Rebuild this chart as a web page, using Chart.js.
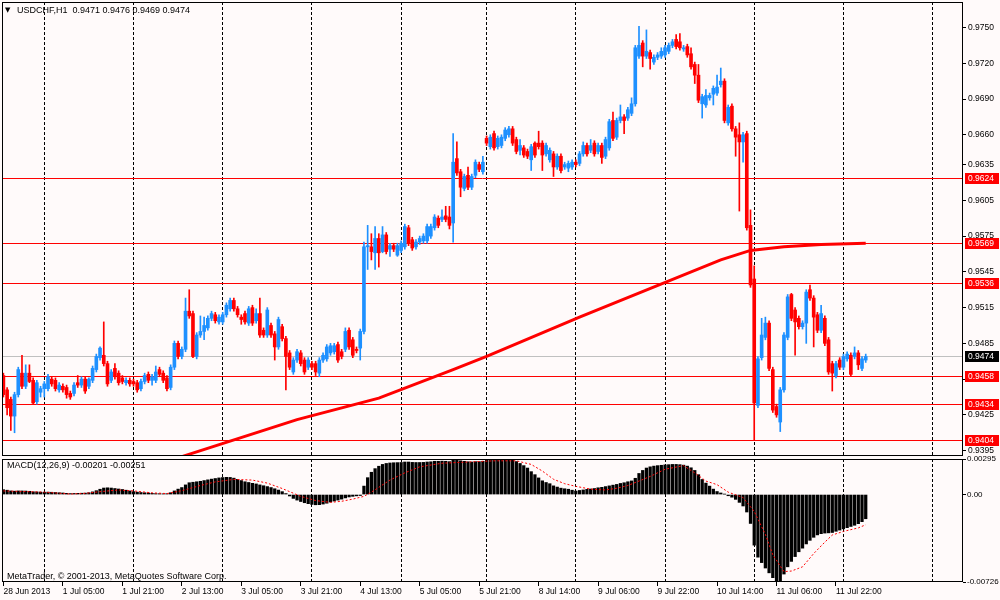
<!DOCTYPE html>
<html><head><meta charset="utf-8">
<script src="https://cdn.jsdelivr.net/npm/chart.js@4.4.0/dist/chart.umd.min.js"></script>
<style>
html,body{margin:0;padding:0;background:#fffafa;}
#wrap{position:relative;width:1000px;height:600px;overflow:hidden;background:#fffafa;}
canvas{position:absolute;left:0;}
#c1{top:0;width:1000px;height:458px;}
#c2{top:440px;width:1000px;height:160px;}
</style></head><body>
<div id="wrap"><canvas id="c1" width="1000" height="458"></canvas><canvas id="c2" width="1000" height="160"></canvas></div>
<script>
// ---------- data ----------
const symbolLabel = "USDCHF,H1";
const macdLabel = "MACD(12,26,9)";
const copyright = "MetaTrader, \u00A9 2001-2013, MetaQuotes Software Corp.";

const open = [
0.9458,0.9446,0.9438,0.9424,0.9442,0.9460,0.9449,0.9460,0.9454,0.9436,
0.9444,0.9447,0.9447,0.9455,0.9454,0.9446,0.9449,0.9448,0.9443,0.9443,
0.9452,0.9450,0.9455,0.9449,0.9454,0.9463,0.9473,0.9475,0.9468,0.9454,
0.9464,0.9460,0.9456,0.9452,0.9454,0.9453,0.9452,0.9447,0.9453,0.9459,
0.9454,0.9454,0.9463,0.9460,0.9456,0.9448,0.9465,0.9485,0.9474,0.9480,
0.9512,0.9510,0.9474,0.9492,0.9495,0.9498,0.9506,0.9509,0.9503,0.9503,
0.9509,0.9514,0.9521,0.9514,0.9507,0.9510,0.9502,0.9515,0.9504,0.9510,
0.9496,0.9492,0.9500,0.9493,0.9482,0.9499,0.9489,0.9477,0.9461,0.9471,
0.9477,0.9471,0.9465,0.9468,0.9468,0.9460,0.9471,0.9472,0.9477,0.9478,
0.9484,0.9478,0.9480,0.9496,0.9488,0.9480,0.9481,0.9495,0.9566,0.9566,
0.9561,0.9573,0.9562,0.9576,0.9564,0.9567,0.9559,0.9563,0.9566,0.9582,
0.9572,0.9566,0.9570,0.9571,0.9571,0.9575,0.9582,0.9590,0.9589,0.9592,
0.9591,0.9586,0.9640,0.9629,0.9615,0.9626,0.9616,0.9626,0.9635,0.9629,
0.9657,0.9650,0.9661,0.9650,0.9651,0.9657,0.9660,0.9665,0.9656,0.9647,
0.9649,0.9646,0.9639,0.9653,0.9653,0.9653,0.9644,0.9639,0.9644,0.9633,
0.9642,0.9633,0.9632,0.9633,0.9637,0.9636,0.9644,0.9651,0.9647,0.9653,
0.9646,0.9651,0.9642,0.9649,0.9672,0.9658,0.9672,0.9675,0.9674,0.9678,
0.9686,0.9726,0.9737,0.9726,0.9729,0.9721,0.9725,0.9726,0.9727,0.9730,
0.9735,0.9740,0.9738,0.9732,0.9734,0.9728,0.9719,0.9710,0.9686,0.9685,
0.9691,0.9694,0.9695,0.9702,0.9705,0.9670,0.9684,0.9665,0.9660,0.9654,
0.9661,0.9584,0.9539,0.9433,0.9473,0.9490,0.9502,0.9463,0.9432,0.9419,
0.9446,0.9490,0.9526,0.9513,0.9506,0.9499,0.9502,0.9530,0.9523,0.9509,
0.9496,0.9506,0.9488,0.9468,0.9458,0.9471,0.9465,0.9472,0.9475,0.9474,
0.9477,0.9464,0.9471];

const high = [
0.9460,0.9448,0.9440,0.9444,0.9465,0.9475,0.9467,0.9467,0.9456,0.9454,
0.9449,0.9453,0.9459,0.9457,0.9456,0.9452,0.9451,0.9450,0.9445,0.9452,
0.9458,0.9457,0.9457,0.9456,0.9466,0.9476,0.9482,0.9503,0.9470,0.9463,
0.9468,0.9462,0.9458,0.9456,0.9456,0.9455,0.9454,0.9455,0.9460,0.9461,
0.9459,0.9466,0.9465,0.9462,0.9458,0.9467,0.9487,0.9487,0.9482,0.9523,
0.9530,0.9512,0.9494,0.9508,0.9507,0.9508,0.9512,0.9511,0.9509,0.9511,
0.9519,0.9523,0.9523,0.9516,0.9509,0.9512,0.9516,0.9517,0.9514,0.9523,
0.9498,0.9515,0.9502,0.9495,0.9507,0.9501,0.9491,0.9479,0.9473,0.9480,
0.9479,0.9473,0.9473,0.9470,0.9470,0.9473,0.9477,0.9484,0.9485,0.9485,
0.9486,0.9480,0.9498,0.9498,0.9490,0.9482,0.9497,0.9570,0.9584,0.9577,
0.9583,0.9577,0.9583,0.9578,0.9569,0.9569,0.9569,0.9571,0.9585,0.9584,
0.9574,0.9572,0.9575,0.9577,0.9585,0.9585,0.9593,0.9592,0.9597,0.9600,
0.9600,0.9661,0.9654,0.9631,0.9627,0.9633,0.9627,0.9639,0.9637,0.9642,
0.9659,0.9660,0.9663,0.9659,0.9660,0.9666,0.9667,0.9667,0.9658,0.9656,
0.9651,0.9648,0.9652,0.9654,0.9663,0.9655,0.9653,0.9649,0.9646,0.9644,
0.9644,0.9637,0.9638,0.9639,0.9639,0.9646,0.9654,0.9653,0.9656,0.9655,
0.9653,0.9653,0.9658,0.9673,0.9679,0.9674,0.9685,0.9677,0.9683,0.9691,
0.9735,0.9751,0.9739,0.9748,0.9731,0.9727,0.9729,0.9733,0.9735,0.9737,
0.9740,0.9744,0.9745,0.9735,0.9736,0.9733,0.9721,0.9719,0.9694,0.9698,
0.9695,0.9701,0.9710,0.9716,0.9707,0.9685,0.9686,0.9667,0.9670,0.9662,
0.9663,0.9597,0.9550,0.9474,0.9506,0.9507,0.9504,0.9465,0.9434,0.9448,
0.9494,0.9526,0.9527,0.9515,0.9508,0.9504,0.9530,0.9534,0.9525,0.9511,
0.9517,0.9508,0.9490,0.9470,0.9470,0.9473,0.9476,0.9478,0.9477,0.9482,
0.9479,0.9474,0.9476];

const low = [
0.9440,0.9425,0.9412,0.9410,0.9440,0.9447,0.9447,0.9452,0.9434,0.9434,
0.9440,0.9440,0.9445,0.9449,0.9445,0.9444,0.9444,0.9439,0.9438,0.9441,
0.9448,0.9448,0.9443,0.9447,0.9452,0.9461,0.9471,0.9466,0.9449,0.9452,
0.9455,0.9450,0.9451,0.9450,0.9449,0.9449,0.9444,0.9445,0.9451,0.9452,
0.9450,0.9452,0.9457,0.9452,0.9445,0.9446,0.9463,0.9472,0.9472,0.9478,
0.9506,0.9473,0.9472,0.9490,0.9488,0.9496,0.9504,0.9502,0.9501,0.9501,
0.9507,0.9512,0.9512,0.9507,0.9501,0.9501,0.9500,0.9500,0.9502,0.9490,
0.9490,0.9490,0.9490,0.9471,0.9480,0.9487,0.9446,0.9463,0.9459,0.9469,
0.9466,0.9459,0.9463,0.9463,0.9458,0.9457,0.9469,0.9470,0.9475,0.9476,
0.9469,0.9472,0.9478,0.9480,0.9473,0.9477,0.9471,0.9493,0.9547,0.9555,
0.9547,0.9549,0.9561,0.9560,0.9558,0.9562,0.9558,0.9561,0.9564,0.9567,
0.9563,0.9564,0.9568,0.9569,0.9569,0.9573,0.9580,0.9582,0.9587,0.9587,
0.9581,0.9570,0.9626,0.9608,0.9613,0.9614,0.9614,0.9624,0.9629,0.9627,
0.9651,0.9648,0.9647,0.9648,0.9649,0.9655,0.9658,0.9651,0.9644,0.9643,
0.9641,0.9640,0.9630,0.9641,0.9648,0.9630,0.9642,0.9637,0.9625,0.9631,
0.9628,0.9631,0.9629,0.9631,0.9633,0.9634,0.9642,0.9642,0.9645,0.9642,
0.9644,0.9636,0.9640,0.9647,0.9655,0.9656,0.9670,0.9661,0.9672,0.9676,
0.9684,0.9724,0.9717,0.9724,0.9715,0.9719,0.9723,0.9724,0.9725,0.9728,
0.9733,0.9732,0.9731,0.9730,0.9725,0.9715,0.9703,0.9687,0.9674,0.9683,
0.9689,0.9685,0.9693,0.9700,0.9670,0.9668,0.9663,0.9642,0.9596,0.9637,
0.9580,0.9532,0.9404,0.9431,0.9471,0.9488,0.9462,0.9427,0.9423,0.9411,
0.9444,0.9488,0.9504,0.9475,0.9497,0.9497,0.9485,0.9521,0.9482,0.9494,
0.9494,0.9483,0.9459,0.9445,0.9456,0.9463,0.9463,0.9470,0.9457,0.9472,
0.9463,0.9462,0.9469];

const close = [
0.9442,0.9431,0.9424,0.9442,0.9463,0.9449,0.9460,0.9453,0.9435,0.9452,
0.9447,0.9451,0.9457,0.9451,0.9447,0.9450,0.9446,0.9442,0.9440,0.9450,
0.9450,0.9455,0.9445,0.9455,0.9464,0.9474,0.9481,0.9468,0.9451,0.9461,
0.9457,0.9452,0.9453,0.9454,0.9451,0.9451,0.9446,0.9453,0.9458,0.9454,
0.9457,0.9461,0.9459,0.9454,0.9447,0.9465,0.9485,0.9474,0.9480,0.9512,
0.9508,0.9474,0.9492,0.9495,0.9500,0.9506,0.9510,0.9504,0.9507,0.9509,
0.9517,0.9521,0.9514,0.9509,0.9505,0.9503,0.9514,0.9502,0.9510,0.9492,
0.9492,0.9513,0.9492,0.9482,0.9505,0.9489,0.9474,0.9465,0.9471,0.9478,
0.9468,0.9461,0.9471,0.9465,0.9461,0.9471,0.9475,0.9482,0.9483,0.9483,
0.9471,0.9474,0.9495,0.9482,0.9475,0.9479,0.9495,0.9566,0.9567,0.9562,
0.9573,0.9561,0.9576,0.9562,0.9567,0.9564,0.9567,0.9569,0.9583,0.9569,
0.9565,0.9570,0.9573,0.9575,0.9583,0.9583,0.9591,0.9584,0.9591,0.9589,
0.9584,0.9637,0.9628,0.9616,0.9625,0.9616,0.9625,0.9637,0.9631,0.9637,
0.9653,0.9658,0.9649,0.9657,0.9658,0.9664,0.9665,0.9653,0.9646,0.9651,
0.9643,0.9642,0.9650,0.9643,0.9650,0.9643,0.9651,0.9647,0.9633,0.9642,
0.9630,0.9635,0.9636,0.9637,0.9635,0.9644,0.9651,0.9644,0.9651,0.9644,
0.9651,0.9641,0.9656,0.9671,0.9657,0.9672,0.9675,0.9672,0.9681,0.9686,
0.9733,0.9735,0.9726,0.9730,0.9724,0.9725,0.9727,0.9730,0.9733,0.9735,
0.9738,0.9734,0.9733,0.9733,0.9727,0.9717,0.9710,0.9689,0.9692,0.9693,
0.9693,0.9699,0.9700,0.9705,0.9672,0.9683,0.9665,0.9658,0.9654,0.9660,
0.9582,0.9534,0.9435,0.9472,0.9492,0.9502,0.9464,0.9429,0.9425,0.9446,
0.9492,0.9524,0.9506,0.9503,0.9499,0.9502,0.9528,0.9523,0.9507,0.9496,
0.9510,0.9485,0.9461,0.9460,0.9468,0.9465,0.9474,0.9476,0.9459,0.9477,
0.9467,0.9472,0.9474];

// moving average (red line), read at selected bars
const maBars   = [0, 48, 79, 101, 121, 130, 155, 193, 201, 210, 220, 232];
const maValues = [0.9343,0.9390,0.9421,0.9439,0.9463,0.9474,0.9507,0.9555,0.9563,0.9566,0.9568,0.9569];

// horizontal price levels and current bid
const levelPrices = [0.9624, 0.9569, 0.9536, 0.9458, 0.9434, 0.9404];
const bidPrice = 0.9474;

// MACD histogram (main) per bar
const macdHist = [
0.00040,0.00036,0.00030,0.00028,0.00030,0.00030,0.00029,0.00027,0.00023,0.00022,
0.00020,0.00019,0.00020,0.00019,0.00017,0.00015,0.00013,0.00010,0.00008,0.00009,
0.00010,0.00011,0.00012,0.00015,0.00022,0.00032,0.00044,0.00054,0.00056,0.00054,
0.00050,0.00046,0.00042,0.00036,0.00030,0.00024,0.00020,0.00017,0.00015,0.00013,
0.00010,0.00008,0.00007,0.00006,0.00007,0.00015,0.00030,0.00045,0.00058,0.00080,
0.00098,0.00102,0.00106,0.00110,0.00116,0.00122,0.00128,0.00133,0.00138,0.00141,
0.00143,0.00142,0.00136,0.00126,0.00116,0.00106,0.00100,0.00093,0.00088,0.00080,
0.00073,0.00066,0.00058,0.00048,0.00037,0.00024,0.00008,-0.00012,-0.00032,-0.00046,
-0.00058,-0.00068,-0.00076,-0.00082,-0.00085,-0.00084,-0.00079,-0.00072,-0.00062,-0.00054,
-0.00046,-0.00038,-0.00028,-0.00020,-0.00015,-0.00011,-0.00008,0.00070,0.00140,0.00185,
0.00215,0.00235,0.00250,0.00258,0.00262,0.00264,0.00265,0.00266,0.00270,0.00270,
0.00267,0.00266,0.00266,0.00267,0.00270,0.00272,0.00276,0.00276,0.00277,0.00276,
0.00273,0.00285,0.00286,0.00280,0.00276,0.00272,0.00270,0.00273,0.00273,0.00276,
0.00286,0.00290,0.00290,0.00292,0.00294,0.00295,0.00294,0.00286,0.00274,0.00258,
0.00240,0.00220,0.00190,0.00165,0.00138,0.00114,0.00100,0.00090,0.00072,0.00062,
0.00053,0.00048,0.00044,0.00036,0.00029,0.00034,0.00038,0.00043,0.00046,0.00050,
0.00056,0.00060,0.00066,0.00072,0.00078,0.00084,0.00092,0.00098,0.00106,0.00113,
0.00135,0.00175,0.00200,0.00220,0.00230,0.00236,0.00240,0.00243,0.00246,0.00248,
0.00250,0.00250,0.00248,0.00244,0.00236,0.00222,0.00200,0.00165,0.00125,0.00095,
0.00070,0.00045,0.00025,0.00013,0.00003,-0.00010,-0.00022,-0.00040,-0.00065,-0.00095,
-0.00145,-0.00240,-0.00420,-0.00520,-0.00565,-0.00610,-0.00650,-0.00690,-0.00726,-0.00715,
-0.00660,-0.00600,-0.00555,-0.00515,-0.00475,-0.00445,-0.00410,-0.00380,-0.00355,-0.00335,
-0.00325,-0.00320,-0.00318,-0.00315,-0.00305,-0.00295,-0.00285,-0.00275,-0.00265,-0.00255,
-0.00242,-0.00225,-0.00201];

// MACD signal (red dotted), read at selected bars
const signalBars = [0,11,18,22,26,31,35,40,44,48,53,57,62,67,71,75,80,84,88,91,94,97,99,101,104,108,112,118,125,132,138,142,145,148,151,154,158,162,165,168,171,174,178,183,186,189,192,195,199,202,205,207,210,212,215,218,221,223,226,230,232];
const signalValues = [0.00030,0.00020,0.00004,0.00010,0.00024,0.00038,0.00030,0.00014,0.00008,0.00032,0.00075,0.00105,0.00126,0.00120,0.00095,0.00050,-0.00015,-0.00050,-0.00065,-0.00056,-0.00038,-0.00015,0.00020,0.00060,0.00120,0.00180,0.00230,0.00260,0.00270,0.00280,0.00280,0.00250,0.00195,0.00127,0.00090,0.00068,0.00045,0.00038,0.00052,0.00075,0.00112,0.00150,0.00210,0.00240,0.00180,0.00112,0.00082,0.00020,-0.00025,-0.00140,-0.00330,-0.00500,-0.00640,-0.00635,-0.00600,-0.00490,-0.00395,-0.00336,-0.00306,-0.00277,-0.00251];

// axis ticks
const priceTicks = [0.9395,0.9425,0.9455,0.9485,0.9515,0.9545,0.9575,0.9605,0.9635,0.9660,0.9690,0.9720,0.9750];
const macdTicks = [-0.00726, 0, 0.00295];
const macdTickLabels = ["-0.00726", "0.00", "0.00295"];
const timeLabelBars = [0,16,32,48,64,80,96,112,128,144,160,176,192,208,224];
const timeLabels = ["28 Jun 2013","1 Jul 05:00","1 Jul 21:00","2 Jul 13:00","3 Jul 05:00","3 Jul 21:00","4 Jul 13:00","5 Jul 05:00","5 Jul 21:00","8 Jul 14:00","9 Jul 06:00","9 Jul 22:00","10 Jul 14:00","11 Jul 06:00","11 Jul 22:00"];
const gridBars = [11,35,59,83,107,130,154,178,202,226,250];

// ---------- view ----------
const X_MIN = -0.377, X_MAX = 258.17;
const P_MIN = 0.93905, P_MAX = 0.97714;
const M_MIN = -0.00726, M_MAX = 0.00295;
const FAM = '"Liberation Sans", Arial, sans-serif';
const FONT = {family: FAM, size: 8.5};
const MFONT = {family: FAM, size: 8};
Chart.defaults.font.family = FAM;
Chart.defaults.font.size = 8.5;
Chart.defaults.color = '#000';
const BULL = '#1e90ff', BEAR = '#ff0000';

const idx = open.map((_, i) => i);
const candleColors = idx.map(i => close[i] > open[i] ? BULL : BEAR);
const bodyData = idx.map(i => ({x: i, y: [open[i], close[i]]}));
const wickData = idx.map(i => ({x: i, y: [low[i], high[i]]}));
const maData = maBars.map((b, k) => ({x: b, y: maValues[k]}));
const histData = macdHist.map((v, i) => ({x: i, y: v}));
const sigData = signalBars.map((b, k) => ({x: b, y: signalValues[k]}));

function noPad(s) { s.paddingTop = 0; s.paddingBottom = 0; s.paddingLeft = 0; s.paddingRight = 0; }

function hLine(ctx, a, y, color) {
  const yy = Math.round(y) + 0.5;
  ctx.strokeStyle = color; ctx.lineWidth = 1; ctx.setLineDash([]);
  ctx.beginPath(); ctx.moveTo(a.left, yy); ctx.lineTo(a.right, yy); ctx.stroke();
}
function priceBox(ctx, a, y, text, bg) {
  const yy = Math.round(y);
  ctx.fillStyle = bg; ctx.fillRect(a.right + 2, yy - 5, 34, 11);
  ctx.fillStyle = '#ffffff'; ctx.textAlign = 'left'; ctx.textBaseline = 'middle';
  ctx.font = '8.5px ' + FAM;
  ctx.fillText(text, a.right + 5, yy + 0.5);
}
function frame(ctx, a) {
  ctx.strokeStyle = '#000'; ctx.lineWidth = 1; ctx.setLineDash([]);
  ctx.strokeRect(Math.round(a.left) + 0.5, Math.round(a.top) + 0.5, Math.round(a.right - a.left) - 1, Math.round(a.bottom - a.top) - 1);
}

const mainPlugin = {
  id: 'mt4main',
  beforeDatasetsDraw(chart) {
    const {ctx, chartArea: a, scales: {y}} = chart;
    ctx.save();
    hLine(ctx, a, y.getPixelForValue(bidPrice), '#c0c0c0');
    levelPrices.forEach(v => hLine(ctx, a, y.getPixelForValue(v), '#ff0000'));
    ctx.restore();
  },
  afterDraw(chart) {
    const {ctx, chartArea: a, scales: {y}} = chart;
    ctx.save();
    frame(ctx, a);
    levelPrices.forEach(v => priceBox(ctx, a, y.getPixelForValue(v), v.toFixed(4), '#ff0000'));
    priceBox(ctx, a, y.getPixelForValue(bidPrice), bidPrice.toFixed(4), '#000000');
    const n = open.length - 1;
    ctx.fillStyle = '#000'; ctx.textAlign = 'left'; ctx.textBaseline = 'middle';
    ctx.font = '7px "DejaVu Sans"';
    ctx.fillText('\u25BC', 5, 10);
    ctx.font = '9px ' + FAM;
    ctx.fillText(symbolLabel, 17, 10.5);
    ctx.fillText([open[n], high[n], low[n], close[n]].map(v => v.toFixed(4)).join(' '), 72.5, 10.5);
    ctx.restore();
  }
};

new Chart(document.getElementById('c1'), {
  type: 'line',
  data: { datasets: [
    {type: 'line', label: 'MA', data: maData, borderColor: '#ff0000', borderWidth: 3, pointRadius: 0, tension: 0, clip: 0, order: 0},
    {type: 'bar', label: 'body', data: bodyData, backgroundColor: candleColors, barThickness: 3, minBarLength: 1, stack: 'c', order: 1},
    {type: 'bar', label: 'wick', data: wickData, backgroundColor: candleColors, barThickness: 1, stack: 'c', order: 2}
  ]},
  options: {
    responsive: false, animation: false, devicePixelRatio: 1,
    layout: {padding: {left: 2, top: 2, right: 0, bottom: 2}},
    plugins: {legend: {display: false}, tooltip: {enabled: false}, title: {display: false}},
    scales: {
      x: {
        type: 'linear', min: X_MIN, max: X_MAX, offset: false, stacked: true,
        afterBuildTicks: s => { s.ticks = gridBars.map(v => ({value: v})); },
        ticks: {display: false},
        grid: {display: true, color: '#000', lineWidth: 1, drawTicks: false, offset: false},
        border: {display: false, dash: [3, 2]},
        afterFit: s => { s.height = 0; noPad(s); }
      },
      y: {
        type: 'linear', position: 'right', min: P_MIN, max: P_MAX, stacked: false, beginAtZero: false,
        afterBuildTicks: s => { s.ticks = priceTicks.map(v => ({value: v})); },
        ticks: {callback: v => Number(v).toFixed(4), font: FONT, color: '#000', padding: 2, autoSkip: false},
        grid: {drawOnChartArea: false, drawTicks: true, tickLength: 3, color: '#000'},
        border: {display: false},
        afterFit: s => { s.width = 37; noPad(s); }
      }
    }
  },
  plugins: [mainPlugin]
});

const macdPlugin = {
  id: 'mt4macd',
  afterDraw(chart) {
    const {ctx, chartArea: a} = chart;
    ctx.save();
    frame(ctx, a);
    ctx.fillStyle = '#000'; ctx.textAlign = 'left'; ctx.textBaseline = 'middle';
    ctx.font = '9px ' + FAM;
    const n = macdHist.length - 1;
    ctx.fillText(macdLabel + ' ' + macdHist[n].toFixed(5) + ' ' + signalValues[signalValues.length - 1].toFixed(5), 7, 26);
    ctx.fillText(copyright, 7, 137);
    ctx.restore();
  }
};

new Chart(document.getElementById('c2'), {
  type: 'line',
  data: { datasets: [
    {type: 'line', label: 'Signal', data: sigData, borderColor: '#ff0000', borderWidth: 1, borderDash: [2, 2], pointRadius: 0, tension: 0, clip: 0, order: 0},
    {type: 'bar', label: 'MACD', data: histData, backgroundColor: '#000000', barThickness: 2.6, order: 1}
  ]},
  options: {
    responsive: false, animation: false, devicePixelRatio: 1,
    layout: {padding: {left: 2, top: 19, right: 0, bottom: 0}},
    plugins: {legend: {display: false}, tooltip: {enabled: false}},
    scales: {
      x: {
        type: 'linear', position: 'bottom', min: X_MIN, max: X_MAX, offset: false,
        afterBuildTicks: s => { s.ticks = timeLabelBars.map(v => ({value: v})); },
        ticks: {callback: (v, i) => timeLabels[i], align: 'start', font: FONT, color: '#000', padding: 1, maxRotation: 0, minRotation: 0, autoSkip: false},
        grid: {drawOnChartArea: false, drawTicks: true, tickLength: 4, color: '#000', offset: false},
        border: {display: false},
        afterFit: s => { s.height = 18; noPad(s); }
      },
      xg: {
        type: 'linear', position: 'bottom', min: X_MIN, max: X_MAX, offset: false,
        afterBuildTicks: s => { s.ticks = gridBars.map(v => ({value: v})); },
        ticks: {display: false},
        grid: {display: true, color: '#000', lineWidth: 1, drawTicks: false, offset: false},
        border: {display: false, dash: [3, 2]},
        afterFit: s => { s.height = 0; noPad(s); }
      },
      y: {
        type: 'linear', position: 'right', min: M_MIN, max: M_MAX, beginAtZero: false,
        afterBuildTicks: s => { s.ticks = macdTicks.map(v => ({value: v})); },
        ticks: {callback: (v, i) => macdTickLabels[i], font: MFONT, color: '#000', padding: 1, autoSkip: false},
        grid: {drawOnChartArea: false, drawTicks: true, tickLength: 3, color: '#000'},
        border: {display: false},
        afterFit: s => { s.width = 37; noPad(s); }
      }
    }
  },
  plugins: [macdPlugin]
});
</script></body></html>
